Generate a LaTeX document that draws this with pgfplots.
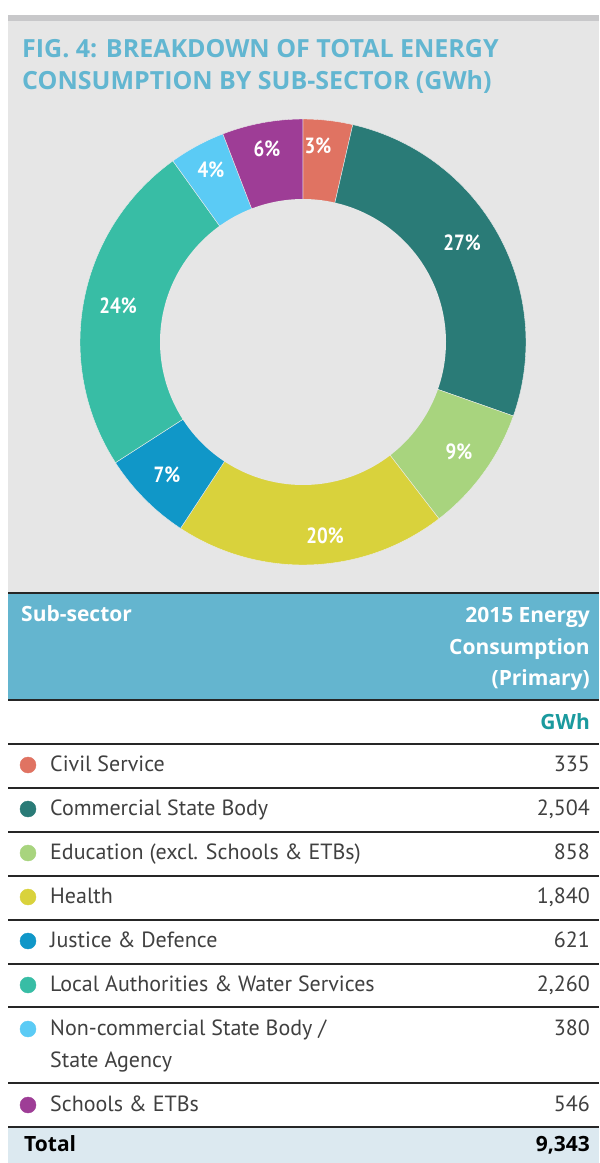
\documentclass[border=0pt]{standalone}
\usepackage{fontspec}
\setmainfont{PT Sans}
\newfontfamily\condbf[FakeStretch=0.86]{PT Sans Bold}
\newfontfamily\osbf{Open Sans Bold}
\usepackage{pgfplots}
\pgfplotsset{compat=1.18}

\definecolor{cCivil}{HTML}{E07362}
\definecolor{cComm}{HTML}{2A7B77}
\definecolor{cEdu}{HTML}{A8D47E}
\definecolor{cHealth}{HTML}{D9D23C}
\definecolor{cJust}{HTML}{1097C8}
\definecolor{cLocal}{HTML}{38BDA5}
\definecolor{cNonc}{HTML}{5BCBF5}
\definecolor{cSchool}{HTML}{9E3D96}
\definecolor{titleblue}{HTML}{62B6D1}
\definecolor{bandblue}{HTML}{64B5CF}
\definecolor{gwhteal}{HTML}{1A9A9E}
\definecolor{totband}{HTML}{DCE9F0}
\definecolor{bggrey}{HTML}{E6E6E6}
\definecolor{bargrey}{HTML}{C8C8CA}
\definecolor{rowtext}{HTML}{404040}

% 2015 energy consumption (primary), GWh
\def\vCivil{335}
\def\vComm{2504}
\def\vEdu{858}
\def\vHealth{1840}
\def\vJust{621}
\def\vLocal{2260}
\def\vNonc{380}
\def\vSchool{546}
\pgfmathsetmacro\vTot{\vCivil+\vComm+\vEdu+\vHealth+\vJust+\vLocal+\vNonc+\vSchool}
\pgfmathsetmacro\aA{90-360*(\vCivil/\vTot)}
\pgfmathsetmacro\aB{\aA-360*(\vComm/\vTot)}
\pgfmathsetmacro\aC{\aB-360*(\vEdu/\vTot)}
\pgfmathsetmacro\aD{\aC-360*(\vHealth/\vTot)}
\pgfmathsetmacro\aE{\aD-360*(\vJust/\vTot)}
\pgfmathsetmacro\aF{\aE-360*(\vLocal/\vTot)}
\pgfmathsetmacro\aG{\aF-360*(\vNonc/\vTot)}
\pgfmathsetmacro\aH{\aG-360*(\vSchool/\vTot)}

\begin{document}
\begin{tikzpicture}
% page background and panels (pixel coordinates, y downwards)
\begin{scope}[x=1pt,y=-1pt,shift={(0pt,1163pt)}]
  \fill[white] (0,0) rectangle (599,1163);
  \fill[bggrey] (8,15) rectangle (599,593);
  \fill[bargrey] (8,15) rectangle (599,21);
  \fill[bandblue] (8,593) rectangle (599,700);
  \fill[totband] (8,1127) rectangle (599,1163);
\end{scope}

\begin{axis}[
  at={(0pt,0pt)}, anchor=south west,
  scale only axis, width=599pt, height=1163pt,
  xmin=0, xmax=599, ymin=0, ymax=1163, y dir=reverse,
  hide axis, clip=false,
]
% donut slices
\addplot[fill=cCivil, draw=white!85!gray, line width=0.4pt, domain=\aA:90, samples=30, variable=\t]
  ({303+223*cos(\t)},{342-223*sin(\t)}) -- (303,342) -- cycle;
\addplot[fill=cComm, draw=white!85!gray, line width=0.4pt, domain=\aB:\aA, samples=80, variable=\t]
  ({303+223*cos(\t)},{342-223*sin(\t)}) -- (303,342) -- cycle;
\addplot[fill=cEdu, draw=white!85!gray, line width=0.4pt, domain=\aC:\aB, samples=40, variable=\t]
  ({303+223*cos(\t)},{342-223*sin(\t)}) -- (303,342) -- cycle;
\addplot[fill=cHealth, draw=white!85!gray, line width=0.4pt, domain=\aD:\aC, samples=60, variable=\t]
  ({303+223*cos(\t)},{342-223*sin(\t)}) -- (303,342) -- cycle;
\addplot[fill=cJust, draw=white!85!gray, line width=0.4pt, domain=\aE:\aD, samples=30, variable=\t]
  ({303+223*cos(\t)},{342-223*sin(\t)}) -- (303,342) -- cycle;
\addplot[fill=cLocal, draw=white!85!gray, line width=0.4pt, domain=\aF:\aE, samples=80, variable=\t]
  ({303+223*cos(\t)},{342-223*sin(\t)}) -- (303,342) -- cycle;
\addplot[fill=cNonc, draw=white!85!gray, line width=0.4pt, domain=\aG:\aF, samples=30, variable=\t]
  ({303+223*cos(\t)},{342-223*sin(\t)}) -- (303,342) -- cycle;
\addplot[fill=cSchool, draw=white!85!gray, line width=0.4pt, domain=\aH:\aG, samples=30, variable=\t]
  ({303+223*cos(\t)},{342-223*sin(\t)}) -- (303,342) -- cycle;
% hole
\addplot[fill=bggrey, draw=none, domain=0:360, samples=180, variable=\t]
  ({303+143*cos(\t)},{342-143*sin(\t)}) -- cycle;

% slice labels
\begin{scope}[every node/.style={text=white, font=\condbf\fontsize{22}{22}\selectfont, anchor=center}]
\node at (318,146) {3\%};
\node at (462,243) {27\%};
\node at (459,452) {9\%};
\node at (325,536) {20\%};
\node at (167,475) {7\%};
\node at (118,306) {24\%};
\node at (211,170) {4\%};
\node at (267,149) {6\%};
\end{scope}

% legend dots of the table
\addplot[only marks, mark=*, mark size=8pt, color=cCivil]  coordinates {(28,765)};
\addplot[only marks, mark=*, mark size=8pt, color=cComm]   coordinates {(28,809)};
\addplot[only marks, mark=*, mark size=8pt, color=cEdu]    coordinates {(28,853)};
\addplot[only marks, mark=*, mark size=8pt, color=cHealth] coordinates {(28,897)};
\addplot[only marks, mark=*, mark size=8pt, color=cJust]   coordinates {(28,941)};
\addplot[only marks, mark=*, mark size=8pt, color=cLocal]  coordinates {(28,985)};
\addplot[only marks, mark=*, mark size=8pt, color=cNonc]   coordinates {(28,1029)};
\addplot[only marks, mark=*, mark size=8pt, color=cSchool] coordinates {(28,1105)};
\end{axis}

\begin{scope}[x=1pt,y=-1pt,shift={(0pt,1163pt)}]
  % title
  \node[anchor=base west, text=titleblue, font=\osbf\fontsize{25}{25}\selectfont, inner sep=0pt] at (22,57.5) {FIG. 4: BREAKDOWN OF TOTAL ENERGY};
  \node[anchor=base west, text=titleblue, font=\osbf\fontsize{25}{25}\selectfont, inner sep=0pt] at (22,89.5) {CONSUMPTION BY SUB-SECTOR (GWh)};
  % table rules
  \draw[line width=1.2pt, black!85] (8,593) -- (599,593);
  \foreach \yy in {700,744,788,832,876,920,964,1007,1083,1127}
    \draw[line width=1.1pt, black!85] (8,\yy) -- (599,\yy);
  % header
  \begin{scope}[every node/.style={anchor=base west, inner sep=0pt, text=white, font=\osbf\fontsize{21}{21}\selectfont}]
    \node at (21,622) {Sub-sector};
  \end{scope}
  \begin{scope}[every node/.style={anchor=base east, inner sep=0pt, text=white, font=\osbf\fontsize{21}{21}\selectfont}]
    \node at (590,623) {2015 Energy};
    \node at (590,654.5) {Consumption};
    \node at (590,686) {(Primary)};
  \end{scope}
  \node[anchor=base east, inner sep=0pt, text=gwhteal, font=\osbf\fontsize{21}{21}\selectfont] at (590,730) {GWh};
  % rows
  \begin{scope}[every node/.style={anchor=base west, inner sep=0pt, text=rowtext, font=\fontsize{22}{22}\selectfont}]
    \node at (50,772) {Civil Service};
    \node at (50,816) {Commercial State Body};
    \node at (50,860) {Education (excl. Schools \& ETBs)};
    \node at (50,904) {Health};
    \node at (50,948) {Justice \& Defence};
    \node at (50,992) {Local Authorities \& Water Services};
    \node at (50,1036) {Non-commercial State Body /};
    \node at (50,1068) {State Agency};
    \node at (50,1112) {Schools \& ETBs};
  \end{scope}
  \begin{scope}[every node/.style={anchor=base east, inner sep=0pt, text=rowtext, font=\fontsize{22}{22}\selectfont}]
    \node at (590,772) {335};
    \node at (590,816) {2,504};
    \node at (590,860) {858};
    \node at (590,904) {1,840};
    \node at (590,948) {621};
    \node at (590,992) {2,260};
    \node at (590,1036) {380};
    \node at (590,1112) {546};
  \end{scope}
  \node[anchor=base west, inner sep=0pt, text=black, font=\osbf\fontsize{21}{21}\selectfont] at (24,1151) {Total};
  \node[anchor=base east, inner sep=0pt, text=black, font=\osbf\fontsize{21}{21}\selectfont] at (590,1151) {9,343};
\end{scope}
\end{tikzpicture}
\end{document}
